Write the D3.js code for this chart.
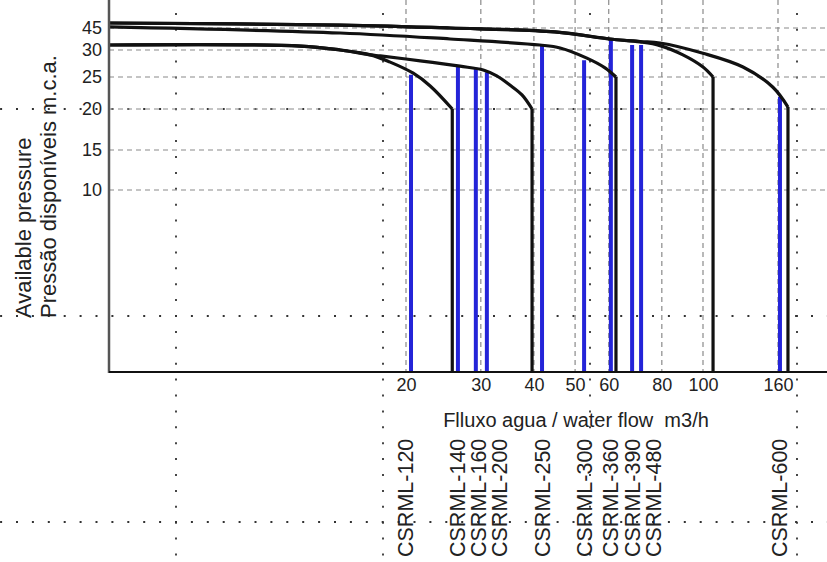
<!DOCTYPE html>
<html><head><meta charset="utf-8">
<script src="https://cdn.jsdelivr.net/npm/d3@7"></script>
<style>html,body{margin:0;padding:0;background:#fff;} svg{display:block;}</style>
</head><body>
<svg id="chart" width="827" height="562"></svg>
<script>
// ---------- data ----------
const flowTicks = [20, 30, 40, 50, 60, 80, 100, 160];
const pressureTicks = [10, 15, 20, 25, 30, 45];

const models = ["CSRML-120","CSRML-140","CSRML-160","CSRML-200","CSRML-250",
                "CSRML-300","CSRML-360","CSRML-390","CSRML-480","CSRML-600"];
const modelFlow     = [20.55, 26.5, 29.2, 31.0, 41.8, 52.5, 60.7, 68.1, 71.5, 162];
const modelPressure = [25.4, 26.9, 26.7, 25.9, 33.4, 28.1, 36.8, 33.4, 33.4, 21.9];

const curve1Flow     = [4, 11.3, 14, 16.5, 18.3, 20.8, 22.8, 25.7];
const curve1Pressure = [33.4, 32.7, 30.0, 29.1, 27.8, 25.7, 23.6, 20];
const curve2Flow     = [4, 11.3, 14, 16.5, 17.4, 21.6, 26.8, 30.4, 32.7, 35.1, 37.5, 39.6];
const curve2Pressure = [33.4, 32.7, 30.0, 29.1, 28.9, 28.0, 27.0, 26.3, 25.2, 23.75, 22.2, 20];
const curve3Flow     = [4, 14, 25.4, 41.3, 46.1, 53.3, 58.8, 62.4];
const curve3Pressure = [45.7, 41.6, 37.5, 33.4, 31.4, 28.5, 26.7, 25];
const curve4Flow     = [4, 14, 25.4, 44.8, 60.4, 71.1, 79.2, 89.7, 100, 106.5];
const curve4Pressure = [48.4, 47.0, 45.0, 42.3, 37.5, 35.5, 33.0, 29.1, 26.85, 25];
const curve5Flow     = [4, 14, 25.4, 44.8, 60.4, 71.1, 79.2, 100, 128.5, 155, 170.4];
const curve5Pressure = [48.4, 47.0, 45.0, 42.3, 37.5, 35.8, 34.8, 29.4, 26.85, 23.4, 20.3];

const xTitle = "Flluxo agua / water flow  m3/h";
const yTitle1 = "Available pressure";
const yTitle2 = "Pressão disponíveis m.c.a.";

// ---------- drawing ----------
const W = 827, H = 562;
const FONT = "'Liberation Sans', Arial, Helvetica, sans-serif";
const TXT = "#222";
const svg = d3.select("#chart");

const x = d3.scaleLog().domain([4, 100, 160, 218]).range([109, 703, 778, 827]);
const y = d3.scaleLinear().domain([0, 10, 15, 20, 25, 30, 45]).range([372, 190, 150, 109, 77, 50, 28]);
const x0 = x(4), yBase = y(0);

// dotted layout grid (behind everything)
const period = 15.9;
const gridX = [176, 383, 590, 797];
const gridY = [109, 316, 522];
const dotG = svg.append("g");
function off(center) { const s = ((center - 1) % period + period) % period; return period - s; }
gridX.forEach(gx => dotG.append("line").attr("x1", gx).attr("x2", gx).attr("y1", 0).attr("y2", H)
  .attr("stroke", "#333").attr("stroke-width", 1.8).attr("stroke-dasharray", `2 ${period - 2}`)
  .attr("stroke-dashoffset", off(316)));
gridY.forEach(gy => dotG.append("line").attr("x1", 0).attr("x2", W).attr("y1", gy).attr("y2", gy)
  .attr("stroke", "#333").attr("stroke-width", 1.8).attr("stroke-dasharray", `2 ${period - 2}`)
  .attr("stroke-dashoffset", off(176)));

// dashed chart grid
const grid = svg.append("g").attr("stroke", "#8a8a8a").attr("stroke-width", 1.2).attr("stroke-dasharray", "5 4");
pressureTicks.forEach(p => grid.append("line").attr("x1", x0).attr("x2", W).attr("y1", y(p)).attr("y2", y(p)));
flowTicks.forEach(f => grid.append("line").attr("x1", x(f)).attr("x2", x(f)).attr("y1", 0).attr("y2", yBase));

// blue model lines
svg.append("g").selectAll("line").data(models).join("line")
  .attr("x1", (d, i) => x(modelFlow[i])).attr("x2", (d, i) => x(modelFlow[i]))
  .attr("y1", (d, i) => y(modelPressure[i])).attr("y2", yBase)
  .attr("stroke", "#2424d8").attr("stroke-width", 4);

// black pump curves
const curves = [[curve1Flow, curve1Pressure], [curve2Flow, curve2Pressure], [curve3Flow, curve3Pressure],
                [curve4Flow, curve4Pressure], [curve5Flow, curve5Pressure]];
const lineGen = d3.line().x(d => x(d[0])).y(d => y(d[1])).curve(d3.curveCatmullRom.alpha(0.5));
const cg = svg.append("g").attr("fill", "none").attr("stroke", "#111").attr("stroke-width", 3.2).attr("stroke-linejoin", "round");
curves.forEach(([fl, pr]) => {
  const pts = fl.map((f, i) => [f, pr[i]]);
  cg.append("path").attr("d", lineGen(pts));
  const last = pts[pts.length - 1];
  cg.append("path").attr("d", d3.line().x(d => x(d[0])).y(d => y(d[1]))([last, [last[0], 0]]));
});

// axes lines
svg.append("line").attr("x1", x0).attr("x2", x0).attr("y1", 0).attr("y2", yBase + 1)
  .attr("stroke", "#555").attr("stroke-width", 2.5);
svg.append("line").attr("x1", x0).attr("x2", W).attr("y1", yBase).attr("y2", yBase)
  .attr("stroke", "#111").attr("stroke-width", 2);

// tick labels
const yAxis = svg.append("g").attr("transform", `translate(${x0},0)`)
  .call(d3.axisLeft(y).tickValues(pressureTicks).tickSize(0).tickPadding(7).tickFormat(d3.format("d")));
yAxis.select(".domain").remove();
yAxis.selectAll("text").attr("font-family", FONT).attr("font-size", 18).attr("fill", TXT);

const xAxis = svg.append("g").attr("transform", `translate(0,${yBase})`)
  .call(d3.axisBottom(x).tickValues(flowTicks).tickSize(0).tickPadding(6).tickFormat(d3.format("d")));
xAxis.select(".domain").remove();
xAxis.selectAll("text").attr("font-family", FONT).attr("font-size", 18).attr("fill", TXT);

// titles
svg.append("text").attr("x", 576).attr("y", 427).attr("text-anchor", "middle")
  .style("white-space", "pre").attr("xml:space", "preserve")
  .attr("font-family", FONT).attr("font-size", 20).attr("fill", TXT).text(xTitle);
svg.append("text").attr("transform", "translate(31,318) rotate(-90)")
  .attr("font-family", FONT).attr("font-size", 22).attr("fill", TXT).text(yTitle1);
svg.append("text").attr("transform", "translate(56,318) rotate(-90)")
  .attr("font-family", FONT).attr("font-size", 22).attr("fill", TXT).text(yTitle2);

// model labels (rotated), spread to avoid overlap
const lx = modelFlow.map(f => x(f));
for (let i = 1; i < lx.length; i++) lx[i] = Math.max(lx[i], lx[i - 1] + 21);
lx[0] -= 6;
svg.append("g").selectAll("text").data(models).join("text")
  .attr("transform", (d, i) => `translate(${lx[i] + 7.5},557) rotate(-90)`)
  .attr("font-family", FONT).attr("font-size", 21.5).attr("fill", TXT).text(d => d);
</script>
</body></html>
